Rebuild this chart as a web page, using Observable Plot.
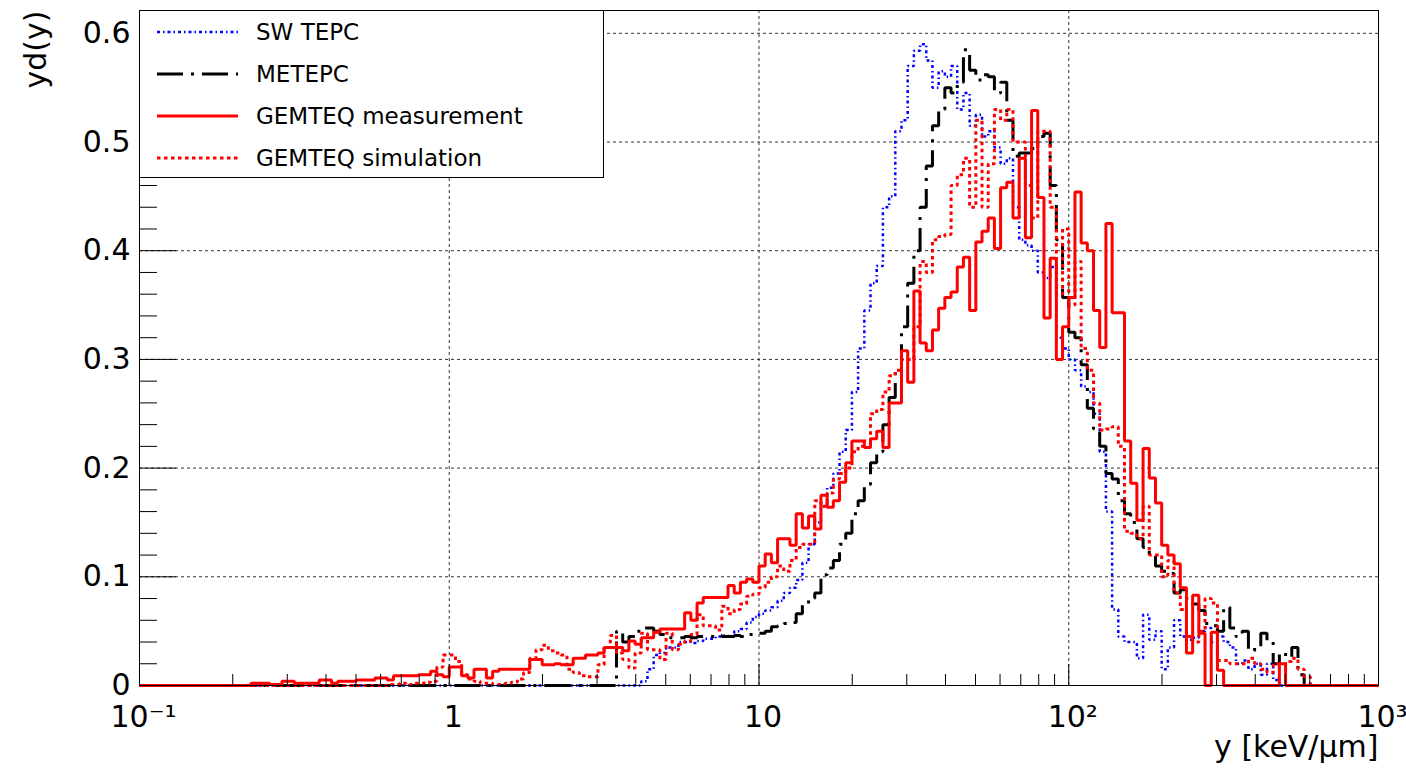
<!DOCTYPE html>
<html>
<head>
<meta charset="utf-8">
<script src="https://cdn.jsdelivr.net/npm/d3@7"></script>
<script src="https://cdn.jsdelivr.net/npm/@observablehq/plot@0.6"></script>
<style>
  html, body { margin: 0; padding: 0; background: #fff; }
  #chart { position: relative; width: 1406px; height: 769px; font-family: "DejaVu Sans", sans-serif; }
  #legend { position: absolute; left: 139px; top: 10px; width: 465px; height: 168px; box-sizing: border-box; border: 1px solid #000; background: #fff; }
  .entry { position: absolute; left: 0; width: 100%; height: 42px; }
  .entry svg { position: absolute; left: 17px; top: 0; }
  .entry span { position: absolute; left: 116px; top: 50%; transform: translateY(-50%); font-size: 23px; color: #000; white-space: nowrap; }
</style>
</head>
<body>
<div id="chart"><div id="legend"></div></div>
<script>
// Log-binned histograms: 50 bins per decade starting at 0.1, 200 bins up to 1000
const binsPerDecade = 50;
const xLow = 0.1;

// Bin contents, yd(y), one value per bin
const swTepc = [
  0,0,0,0,0,0,0,0,0,0, 0,0,0,0,0,0,0,0,0,0,
  0,0,0,0,0,0,0,0,0,0, 0,0,0,0,0,0,0,0,0,0,
  0,0,0,0,0,0,0,0,0,0, 0,0,0,0,0,0,0,0,0,0,
  0,0,0,0,0,0,0,0,0,0, 0,0,0,0,0,0,0,0,0,0,
  0,0.004,0.015,0.028,0.03,0.035,0.035,0.04,0.04,0.039,
  0.041,0.043,0.043,0.045,0.046,0.045,0.05,0.052,0.058,0.063,
  0.066,0.069,0.072,0.078,0.085,0.09,0.097,0.113,0.13,0.15,
  0.165,0.182,0.195,0.215,0.235,0.27,0.31,0.345,0.37,0.386,
  0.44,0.45,0.51,0.52,0.57,0.584,0.59,0.575,0.55,0.565,
  0.56,0.57,0.53,0.545,0.515,0.525,0.505,0.51,0.495,0.48,
  0.485,0.44,0.41,0.405,0.40,0.38,0.375,0.385,0.32,0.31,
  0.30,0.29,0.275,0.27,0.25,0.215,0.16,0.07,0.045,0.04,
  0.04,0.025,0.065,0.042,0.05,0.015,0.035,0.06,0.045,0.042,
  0.044,0.05,0.053,0.04,0.045,0.04,0.035,0.02,0.023,0.015,
  0.02,0.01,0.02,0.005,0,0,0,0,0,0,
  0,0,0,0,0,0,0,0,0,0
];

const metepc = [
  0,0,0,0,0,0,0,0,0,0, 0,0,0,0,0,0,0,0,0,0,
  0,0,0,0,0,0,0,0,0,0, 0,0,0,0,0,0,0,0,0,0,
  0,0,0,0,0,0,0,0,0,0, 0,0,0,0,0,0,0,0,0,0,
  0,0,0,0,0,0,0,0,0,0, 0,0,0,0,0,0,0,0.05,0.04,0.045,
  0.05,0.053,0.053,0.05,0.047,0.044,0.044,0.044,0.045,0.044,
  0.045,0.045,0.045,0.046,0.045,0.045,0.046,0.045,0.047,0.048,
  0.048,0.05,0.054,0.055,0.057,0.058,0.066,0.075,0.08,0.085,
  0.102,0.108,0.115,0.13,0.14,0.158,0.17,0.185,0.205,0.215,
  0.24,0.265,0.29,0.33,0.37,0.40,0.44,0.478,0.515,0.53,
  0.55,0.545,0.555,0.585,0.566,0.557,0.562,0.56,0.545,0.555,
  0.52,0.487,0.49,0.49,0.494,0.505,0.508,0.46,0.41,0.357,
  0.325,0.32,0.295,0.255,0.236,0.22,0.195,0.19,0.17,0.158,
  0.15,0.135,0.127,0.12,0.11,0.105,0.103,0.085,0.088,0.08,
  0.075,0.069,0.057,0.055,0.05,0.072,0.053,0.045,0.05,0.032,
  0.035,0.048,0.04,0.02,0.03,0.026,0.035,0.01,0,0,
  0,0,0,0,0,0,0,0,0,0
];

const gemteqMeasurement = [
  0,0,0,0,0,0,0,0,0,0,
  0,0,0,0,0,0,0,0,0.002,0.002,
  0.002,0.001,0.001,0.004,0.004,0.002,0.002,0.002,0.002,0.005,
  0.005,0.002,0.004,0.004,0.004,0.005,0.005,0.005,0.007,0.007,
  0.005,0.009,0.009,0.009,0.009,0.01,0.01,0.013,0.01,0.008,
  0.017,0.017,0.009,0.007,0.015,0.015,0.007,0.013,0.015,0.015,
  0.015,0.015,0.015,0.024,0.024,0.019,0.019,0.02,0.019,0.019,
  0.025,0.025,0.028,0.028,0.03,0.035,0.035,0.035,0.032,0.041,
  0.038,0.044,0.044,0.049,0.052,0.052,0.052,0.052,0.067,0.06,
  0.076,0.081,0.081,0.081,0.081,0.092,0.085,0.095,0.098,0.095,
  0.11,0.121,0.113,0.135,0.135,0.129,0.158,0.145,0.156,0.144,
  0.175,0.164,0.17,0.187,0.205,0.225,0.225,0.219,0.227,0.234,
  0.219,0.26,0.26,0.308,0.279,0.363,0.315,0.308,0.327,0.347,
  0.357,0.362,0.385,0.394,0.345,0.408,0.418,0.43,0.402,0.458,
  0.463,0.43,0.485,0.412,0.529,0.449,0.338,0.393,0.30,0.33,
  0.357,0.454,0.407,0.40,0.345,0.311,0.425,0.343,0.343,0.225,
  0.186,0.152,0.218,0.191,0.168,0.129,0.12,0.112,0.09,0.03,
  0.083,0.048,0,0.049,0.014,0,0,0,0,0,
  0,0,0,0,0.02,0,0,0,0,0,
  0,0,0,0,0,0,0,0,0,0
];

const gemteqSimulation = [
  0,0,0,0,0,0,0,0,0,0, 0,0,0,0,0,0,0,0,0,0,
  0,0,0,0,0,0,0,0,0,0, 0,0,0,0,0,0,0,0,0,0,
  0.001,0.001,0.002,0.001,0.002,0.002,0.003,0.004,0.017,0.028,
  0.028,0.022,0.01,0.006,0.004,0.002,0.002,0.001,0.001,0.002,
  0.003,0.006,0.012,0.025,0.033,0.037,0.032,0.03,0.028,0.015,
  0.012,0.009,0.008,0.008,0.019,0.035,0.046,0.03,0.024,0.016,
  0.03,0.048,0.033,0.033,0.024,0.048,0.033,0.038,0.041,0.047,
  0.065,0.055,0.055,0.051,0.073,0.066,0.07,0.075,0.082,0.084,
  0.09,0.095,0.1,0.11,0.105,0.115,0.127,0.13,0.13,0.17,
  0.165,0.177,0.19,0.195,0.2,0.215,0.22,0.225,0.25,0.254,
  0.27,0.285,0.29,0.30,0.30,0.33,0.39,0.38,0.41,0.413,
  0.415,0.46,0.47,0.485,0.44,0.52,0.44,0.48,0.53,0.52,
  0.53,0.50,0.50,0.46,0.43,0.51,0.51,0.44,0.36,0.42,
  0.35,0.39,0.31,0.29,0.26,0.235,0.236,0.238,0.22,0.142,
  0.14,0.135,0.165,0.12,0.12,0.1,0.115,0.085,0.07,0.045,
  0.04,0.05,0.08,0.076,0.023,0.023,0.02,0.02,0.02,0.025,
  0.02,0.015,0.012,0.02,0.02,0.022,0.025,0.015,0.008,0,
  0,0,0,0,0,0,0,0,0,0
];

// Axes: ticks, grid positions and tick labels
const xDomain = [0.1, 1000];
const yDomain = [0, 0.621];
const xMajorTicks = [0.1, 1, 10, 100, 1000];
const xTickLabels = ["10\u207B\u00B9", "1", "10", "10\u00B2", "10\u00B3"];
const xMinorTicks = [
  0.2, 0.3, 0.4, 0.5, 0.6, 0.7, 0.8, 0.9,
  2, 3, 4, 5, 6, 7, 8, 9,
  20, 30, 40, 50, 60, 70, 80, 90,
  200, 300, 400, 500, 600, 700, 800, 900
];
const yMajorTicks = [0, 0.1, 0.2, 0.3, 0.4, 0.5, 0.6];
const yTickLabels = ["0", "0.1", "0.2", "0.3", "0.4", "0.5", "0.6"];
const yMinorTicks = [
  0.02, 0.04, 0.06, 0.08, 0.12, 0.14, 0.16, 0.18, 0.22, 0.24, 0.26, 0.28,
  0.32, 0.34, 0.36, 0.38, 0.42, 0.44, 0.46, 0.48, 0.52, 0.54, 0.56, 0.58, 0.62
];
const xTitle = "y [keV/\u03BCm]";
const yTitle = "yd(y)";

const seriesNames = ["SW TEPC", "METEPC", "GEMTEQ measurement", "GEMTEQ simulation"];
const seriesValues = [swTepc, metepc, gemteqMeasurement, gemteqSimulation];
const seriesStyles = [
  {stroke: "#0000ff", strokeWidth: 2.5, dash: "3,3,1.5,3"},
  {stroke: "#000000", strokeWidth: 3, dash: "26,8,3,8"},
  {stroke: "#ff0000", strokeWidth: 3, dash: null},
  {stroke: "#ff0000", strokeWidth: 3, dash: "3.5,3.5"}
];

// Outline of a histogram: one point per bin edge, drawn with a step curve
function histogramOutline(values) {
  const pts = values.map((v, k) => ({x: xLow * Math.pow(10, k / binsPerDecade), y: v}));
  pts.push({x: xLow * Math.pow(10, values.length / binsPerDecade), y: values[values.length - 1]});
  return pts;
}

const width = 1406, height = 769;
const margin = {left: 139, right: 28, top: 10, bottom: 84};
const frameW = width - margin.left - margin.right;
const frameH = height - margin.top - margin.bottom;

const gridStyle = {stroke: "#333", strokeWidth: 1, strokeDasharray: "3,3"};

const histMarks = seriesValues.map((vals, i) => Plot.line(histogramOutline(vals), {
  x: "x", y: "y", curve: "step-after",
  stroke: seriesStyles[i].stroke,
  strokeWidth: seriesStyles[i].strokeWidth,
  strokeDasharray: seriesStyles[i].dash,
  strokeLinejoin: "miter",
  strokeLinecap: "butt"
}));

const plot = Plot.plot({
  width, height,
  marginLeft: margin.left, marginRight: margin.right,
  marginTop: margin.top, marginBottom: margin.bottom,
  style: {fontFamily: "DejaVu Sans", fontSize: "30px", background: "white", overflow: "visible", color: "#000"},
  x: {type: "log", domain: xDomain, axis: null},
  y: {domain: yDomain, axis: null},
  marks: [
    Plot.ruleY(yMajorTicks.slice(1), {y: d => d, ...gridStyle}),
    Plot.ruleX(xMajorTicks.slice(1, -1), {x: d => d, ...gridStyle}),
    ...histMarks,
    Plot.frame({stroke: "#000", strokeWidth: 1}),
    Plot.tickY(yMajorTicks, {y: d => d, insetRight: frameW - 37, stroke: "#000"}),
    Plot.tickY(yMinorTicks, {y: d => d, insetRight: frameW - 18, stroke: "#000"}),
    Plot.tickX(xMajorTicks, {x: d => d, insetTop: frameH - 21, stroke: "#000"}),
    Plot.tickX(xMinorTicks, {x: d => d, insetTop: frameH - 11, stroke: "#000"}),
    Plot.text(yMajorTicks, {y: d => d, text: (d, i) => yTickLabels[i], frameAnchor: "left",
      textAnchor: "end", lineAnchor: "middle", dx: -9, fontSize: 30, fill: "#000"}),
    Plot.text(xMajorTicks, {x: d => d, text: (d, i) => xTickLabels[i], frameAnchor: "bottom",
      textAnchor: "middle", lineAnchor: "middle", dx: 4, dy: 32, fontSize: 30, fill: "#000"}),
    Plot.text([xTitle], {text: d => d, frameAnchor: "bottom-right", textAnchor: "end",
      lineAnchor: "middle", dy: 62, fontSize: 30, fill: "#000"}),
    Plot.text([yTitle], {text: d => d, frameAnchor: "top-left", rotate: -90, textAnchor: "end",
      lineAnchor: "middle", dx: -103, fontSize: 30, fill: "#000"})
  ]
});

const chart = document.getElementById("chart");
chart.insertBefore(plot, chart.firstChild);

// Legend box drawn over the upper-left corner of the frame
const legend = document.getElementById("legend");
seriesNames.forEach((name, i) => {
  const row = document.createElement("div");
  row.className = "entry";
  row.style.top = (42 * i) + "px";
  const s = seriesStyles[i];
  row.innerHTML =
    `<svg width="81" height="42"><line x1="0" x2="81" y1="21" y2="21" stroke="${s.stroke}" ` +
    `stroke-width="${s.strokeWidth}" ${s.dash ? `stroke-dasharray="${s.dash}"` : ""}/></svg>` +
    `<span>${name}</span>`;
  legend.appendChild(row);
});
</script>
</body>
</html>
